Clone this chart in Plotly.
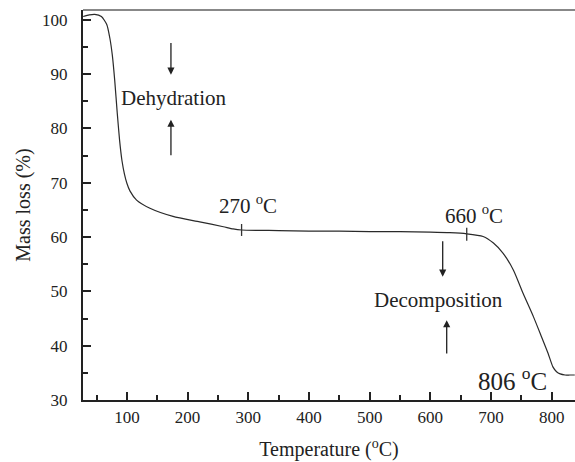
import plotly.graph_objects as go

temperature = [28, 38, 47, 58, 67, 72, 76, 80, 84, 88, 92, 96, 100, 105, 116, 138, 176, 220,
               259, 275, 289, 350, 400, 450, 500, 550, 600, 632, 660, 687, 704, 720, 737,
               753, 770, 783, 794, 802, 808, 814, 822, 830, 838]
mass = [100.6, 100.9, 101.0, 100.6, 99.1, 96.6, 93.5, 88.8, 83.0, 77.8, 74.0, 71.6, 69.9, 68.5,
        66.8, 65.3, 63.8, 62.8, 61.9, 61.5, 61.3, 61.2, 61.1, 61.1, 61.0, 61.0, 60.9, 60.8,
        60.6, 60.1, 58.9, 57.0, 53.9, 49.6, 45.3, 41.7, 38.6, 36.1, 35.2, 34.8, 34.6, 34.6, 34.6]

x_ticks = [100, 200, 300, 400, 500, 600, 700, 800]
y_ticks = [30, 40, 50, 60, 70, 80, 90, 100]

# labels: (text, x, y, size)
labels = [("Dehydration", 176, 85.6, 21),
          ("Decomposition", 614, 48.4, 21),
          ("270 <sup>o</sup>C", 299, 66.0, 21),
          ("660 <sup>o</sup>C", 672, 64.1, 21),
          ("806 <sup>o</sup>C", 735, 33.9, 25)]
# arrows: (x, tail_y, head_y)
arrows = [(172.6, 96.0, 89.9), (172.6, 74.8, 81.6),
          (620.4, 59.5, 52.7), (627.0, 38.3, 44.7)]
# small marker ticks on the curve: (x, y0, y1)
marks = [(289, 60.2, 62.4), (660, 59.3, 61.7)]

FONT = "'Liberation Serif', 'Times New Roman', Times, 'DejaVu Serif', serif"
fig = go.Figure()
fig.add_trace(go.Scatter(x=temperature, y=mass, mode="lines",
                         line=dict(color="#2a2a2a", width=1.2, shape="spline", smoothing=0.6),
                         hoverinfo="skip"))

for text, x, y, size in labels:
    fig.add_annotation(x=x, y=y, text=text, showarrow=False,
                       font=dict(family=FONT, size=size, color="#222222"))
for x, ty, hy in arrows:
    fig.add_annotation(x=x, y=hy, ax=x, ay=ty, axref="x", ayref="y", xref="x", yref="y",
                       text="", showarrow=True, arrowhead=2, arrowsize=1.1,
                       arrowwidth=1.3, arrowcolor="#222222", standoff=0)
for x, y0, y1 in marks:
    fig.add_shape(type="line", x0=x, x1=x, y0=y0, y1=y1, xref="x", yref="y",
                  line=dict(color="#333333", width=1.3))

fig.add_shape(type="line", xref="paper", yref="paper", x0=0, x1=1, y0=1, y1=1,
              line=dict(color="#888888", width=2))

fig.update_layout(
    width=575, height=462,
    margin=dict(l=83, r=0, t=10, b=62),
    plot_bgcolor="white", paper_bgcolor="white",
    showlegend=False,
    font=dict(family=FONT, color="#222222"),
)
fig.update_xaxes(range=[27.7, 838.4], tickvals=x_ticks, ticks="inside", ticklen=8, tickwidth=2,
                 tickcolor="#222222", showline=True, linecolor="#222222", linewidth=2,
                 showgrid=False, zeroline=False, tickfont=dict(family=FONT, size=17),
                 ticklabelstandoff=1,
                 minor=dict(dtick=50, tick0=0, ticks="inside", ticklen=5, tickwidth=2,
                            tickcolor="#222222", showgrid=False),
                 title=dict(text="Temperature (<sup>o</sup>C)", font=dict(family=FONT, size=20),
                            standoff=16))
fig.update_yaxes(range=[30, 101.8], tickvals=y_ticks, ticks="inside", ticklen=8, tickwidth=2,
                 tickcolor="#222222", showline=True, linecolor="#222222", linewidth=2,
                 showgrid=False, zeroline=False, tickfont=dict(family=FONT, size=17),
                 ticklabelstandoff=10,
                 minor=dict(dtick=5, tick0=0, ticks="inside", ticklen=5, tickwidth=2,
                            tickcolor="#222222", showgrid=False),
                 title=dict(text="Mass loss (%)", font=dict(family=FONT, size=20), standoff=6))

fig.write_html("out.html")
